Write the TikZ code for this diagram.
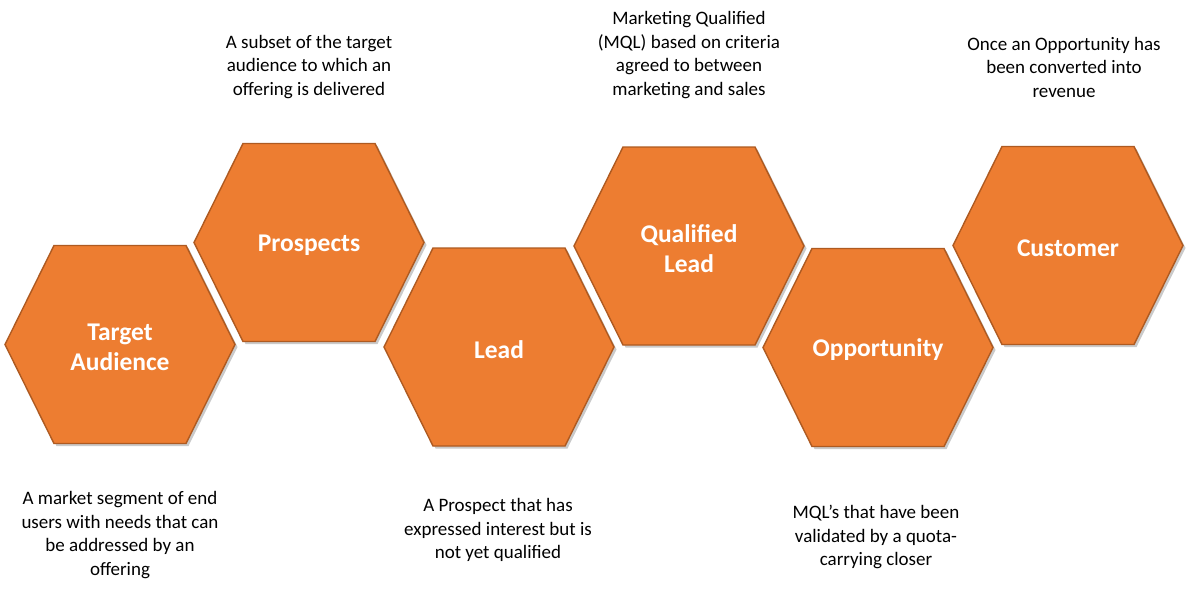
\documentclass[tikz,border=0pt]{standalone}
\usepackage{fontspec}
\setmainfont{Carlito}
\usetikzlibrary{shadows}
\definecolor{hexfill}{HTML}{ED7D31}
\definecolor{hexline}{HTML}{AE5A21}
\tikzset{
  hexshape/.style={fill=hexfill, draw=hexline, line width=1.4pt, line join=miter,
    drop shadow={shadow xshift=2.5pt, shadow yshift=-2.5pt, opacity=0.35, fill=black!60}},
  hexlabel/.style={text=white, font=\fontsize{25.5}{30}\selectfont\bfseries, align=center, inner sep=0pt},
  desc/.style={text=black, font=\fontsize{19}{23.5}\selectfont, align=center, inner sep=0pt}
}
\begin{document}
\begin{tikzpicture}[x=1pt,y=-1pt]
\useasboundingbox (0,0) rectangle (1194,600);
\foreach \n/\x/\y/\t in {ta/120/344.5/{Target\\Audience}, pr/309/242.5/{Prospects}, le/499/347/{Lead}, ql/689/246/{Qualified\\Lead}, op/878/347.5/{Opportunity}, cu/1068/245.5/{Customer}} {
  \draw[hexshape] (\x-115,\y) -- (\x-66,\y-99) -- (\x+66,\y-99) -- (\x+115,\y) -- (\x+66,\y+99) -- (\x-66,\y+99) -- cycle;
  \node[hexlabel] (\n) at (\x,\y+2.5) {\t};
}
\node[desc] (dta) at (120,535) {A market segment of end\\users with needs that can\\be addressed by an\\offering};
\node[desc] (dpr) at (309,67) {A subset of the target\\audience to which an\\offering is delivered};
\node[desc] (dle) at (498,530) {A Prospect that has\\expressed interest but is\\not yet qualified};
\node[desc] (dql) at (689,55) {Marketing Qualified\\(MQL) based on criteria\\agreed to between\\marketing and sales};
\node[desc] (dop) at (876,537) {MQL’s that have been\\validated by a quota-\\carrying closer};
\node[desc] (dcu) at (1064,67) {Once an Opportunity has\\been converted into\\revenue};
\end{tikzpicture}
\end{document}
